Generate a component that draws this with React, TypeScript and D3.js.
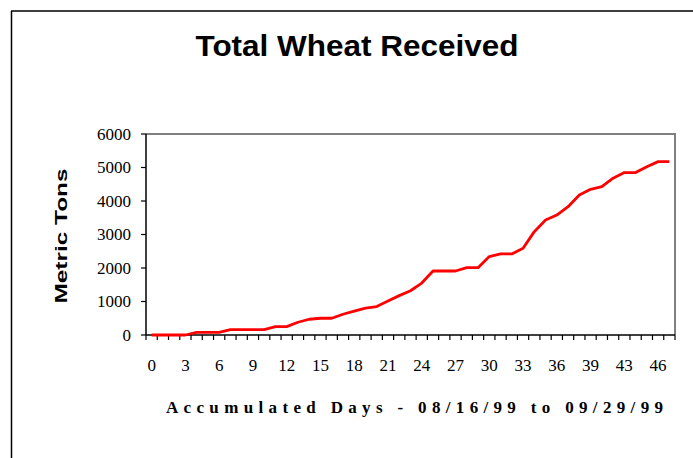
import React from 'react';
import * as d3 from 'd3';

// accumulated days (one day missing between 39 and 43)
const days = [
  0, 1, 2, 3, 4, 5, 6, 7, 8, 9, 10, 11, 12, 13, 14, 15, 16, 17, 18, 19,
  20, 21, 22, 23, 24, 25, 26, 27, 28, 29, 30, 31, 32, 33, 34, 35, 36, 37, 38, 39,
  41, 42, 43, 44, 45, 46, 47,
];

// metric tons received, cumulative
const tons = [
  0, 0, 0, 0, 80, 80, 80, 160, 160, 160, 160, 250, 250, 380, 470, 500, 500, 620, 715, 800,
  850, 1015, 1175, 1320, 1550, 1910, 1910, 1910, 2010, 2010, 2340, 2420, 2420, 2590, 3085, 3430, 3580, 3830, 4180, 4350,
  4430, 4680, 4850, 4850, 5025, 5175, 5175,
];

const yTicks = [0, 1000, 2000, 3000, 4000, 5000, 6000];

const W = 693;
const H = 458;
const plot = { left: 146, right: 675, top: 134, bottom: 335 };

export default function App() {
  const x = d3.scaleBand<number>()
    .domain(d3.range(days.length))
    .range([plot.left, plot.right])
    .padding(0);
  const bw = x.bandwidth();
  const cx = (i: number) => (x(i) as number) + bw / 2;

  const y = d3.scaleLinear().domain([0, 6000]).range([plot.bottom, plot.top]);

  const line = d3.line<number>()
    .x((_, i) => cx(i))
    .y(d => y(d));

  const boundaries = d3.range(days.length + 1).map(k => plot.left + k * bw);

  return (
    <svg width={W} height={H} style={{ position: 'absolute', left: 0, top: 0, background: '#fff' }}>
      {/* outer frame (left + top only visible) */}
      <line x1={11.5} y1={11} x2={11.5} y2={H} stroke="#000" strokeWidth={1.5} />
      <line x1={11} y1={11} x2={W} y2={11} stroke="#000" strokeWidth={1.5} />

      <text
        x={357}
        y={56}
        textAnchor="middle"
        fontFamily="'Liberation Sans', Arial, sans-serif"
        fontWeight="bold"
        fontSize={30}
        textLength={323}
        lengthAdjust="spacingAndGlyphs"
      >
        Total Wheat Received
      </text>

      {/* plot frame: top/right gray */}
      <path
        d={`M${plot.left},${plot.top}H${plot.right}V${plot.bottom}`}
        fill="none"
        stroke="#808080"
        strokeWidth={2}
      />

      {/* y axis */}
      <line x1={plot.left} y1={plot.top} x2={plot.left} y2={plot.bottom} stroke="#000" strokeWidth={1.5} />
      {yTicks.map(t => (
        <g key={t}>
          <line x1={plot.left - 5} x2={plot.left} y1={y(t)} y2={y(t)} stroke="#000" strokeWidth={1.2} />
          <text
            x={131}
            y={y(t)}
            dy="0.35em"
            textAnchor="end"
            fontFamily="'Liberation Serif', 'Times New Roman', serif"
            fontSize={17}
          >
            {t}
          </text>
        </g>
      ))}

      {/* x axis */}
      <line x1={plot.left} y1={plot.bottom} x2={plot.right} y2={plot.bottom} stroke="#000" strokeWidth={1.5} />
      {boundaries.map((bx, k) => (
        <line key={k} x1={bx} x2={bx} y1={plot.bottom} y2={plot.bottom + 5} stroke="#000" strokeWidth={1.2} />
      ))}
      {days.map((d, i) =>
        i % 3 === 0 ? (
          <text
            key={i}
            x={cx(i)}
            y={371}
            textAnchor="middle"
            fontFamily="'Liberation Serif', 'Times New Roman', serif"
            fontSize={17}
          >
            {d}
          </text>
        ) : null
      )}

      <path d={line(tons) as string} fill="none" stroke="#ff0000" strokeWidth={2.8} strokeLinejoin="round" />

      <text
        x={414.5}
        y={413}
        textAnchor="middle"
        fontFamily="'Liberation Serif', 'Times New Roman', serif"
        fontWeight="bold"
        fontSize={17}
        textLength={497}
        lengthAdjust="spacing"
      >
        Accumulated Days - 08/16/99 to 09/29/99
      </text>

      <text
        transform="translate(67,236) rotate(-90)"
        textAnchor="middle"
        fontFamily="'Liberation Sans', Arial, sans-serif"
        fontWeight="bold"
        fontSize={17}
        textLength={135}
        lengthAdjust="spacingAndGlyphs"
      >
        Metric Tons
      </text>
    </svg>
  );
}
